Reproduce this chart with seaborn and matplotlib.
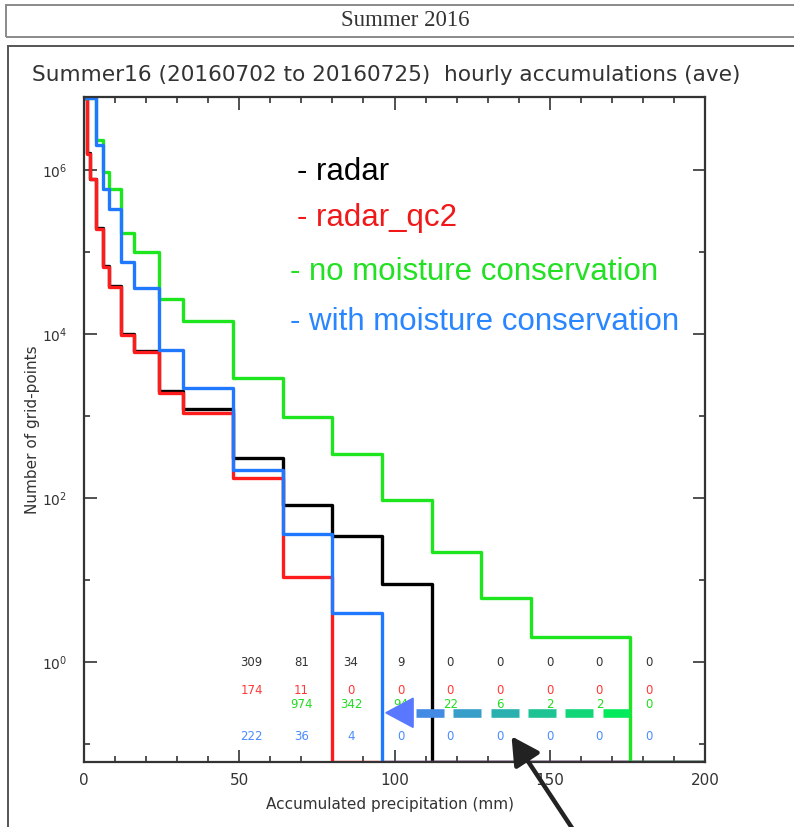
import numpy as np
import pandas as pd
import matplotlib
matplotlib.use("Agg")
import matplotlib.pyplot as plt
import matplotlib.transforms as mtransforms
from matplotlib.ticker import FixedLocator, MultipleLocator, NullFormatter, LogFormatterMathtext
from matplotlib.patches import Rectangle, Polygon, FancyArrowPatch, ArrowStyle
from matplotlib.collections import LineCollection
import seaborn as sns

# ---------------- data ----------------
bin_edges = [0, 1, 2, 4, 6, 8, 12, 16, 24, 32, 48, 64, 80, 96, 112, 128, 144, 160, 176, 192, 208]
series_names = ["radar", "radar_qc2", "no moisture conservation", "with moisture conservation"]
radar = [7.6e6, 1.6e6, 7.9e5, 1.95e5, 6.7e4, 3.9e4, 9.9e3, 6.2e3, 2.0e3, 1.2e3,
         309, 81, 34, 9, 0, 0, 0, 0, 0, 0]
radar_qc2 = [7.6e6, 1.58e6, 7.8e5, 1.92e5, 6.6e4, 3.8e4, 9.7e3, 6.1e3, 1.9e3, 1.08e3,
             174, 11, 0, 0, 0, 0, 0, 0, 0, 0]
no_moist = [7.6e6, 7.6e6, 7.5e6, 2.3e6, 9.5e5, 5.9e5, 1.7e5, 9.9e4, 2.7e4, 1.45e4,
            2.9e3, 974, 342, 94, 22, 6, 2, 2, 0, 0]
with_moist = [7.6e6, 7.6e6, 7.5e6, 2.0e6, 5.9e5, 3.4e5, 7.6e4, 3.6e4, 6.4e3, 2.2e3,
              222, 36, 4, 0, 0, 0, 0, 0, 0, 0]
all_series = [radar, radar_qc2, no_moist, with_moist]

# which bins get printed counts (first bin index, last bin index) per series
count_ranges = [(10, 18), (10, 18), (11, 18), (10, 18)]

x_ticks = [0, 50, 100, 150, 200]
y_major = [1e0, 1e2, 1e4, 1e6]
y_minor = [1e-1, 1e1, 1e3, 1e5]

line_colors = ["#000000", "#ff1c1c", "#1ee61e", "#1f78ff"]
text_colors = ["#000000", "#f01818", "#22e022", "#2a86ff"]
count_colors = ["#333333", "#ff3838", "#22dd22", "#4a8cff"]

title_text = "Summer16 (20160702 to 20160725)  hourly accumulations (ave)"
header_text = "Summer 2016"

# ---------------- figure ----------------
sns.set_style("ticks")
plt.rcParams["font.family"] = ["DejaVu Sans"]

W, H = 794, 827
fig = plt.figure(figsize=(W / 100, H / 100), dpi=100)
fig.patch.set_facecolor("white")


def fx(px):
    return px / W


def fy(py):
    return 1 - py / H


ax = fig.add_axes([fx(84), fy(762), fx(705) - fx(84), fy(97) - fy(762)])
ax.set_facecolor("white")

y_lo, y_hi = 0.06, 7.8e6

rows = []
for name, vals in zip(series_names, all_series):
    vv = list(vals) + [vals[-1]]
    for e, c in zip(bin_edges, vv):
        rows.append({"series": name, "edge": e, "count": max(c, y_lo)})
df = pd.DataFrame(rows)

sns.lineplot(data=df, x="edge", y="count", hue="series", hue_order=series_names,
             palette=line_colors, drawstyle="steps-post", estimator=None, sort=False,
             linewidth=2.4, legend=False, ax=ax)

ax.set_yscale("log")
ax.set_xlim(0, 200)
ax.set_ylim(y_lo, y_hi)

ax.set_xticks(x_ticks)
ax.set_xticklabels([str(t) for t in x_ticks])
ax.xaxis.set_minor_locator(MultipleLocator(10))
ax.yaxis.set_major_locator(FixedLocator(y_major))
ax.yaxis.set_minor_locator(FixedLocator(y_minor))
ax.yaxis.set_major_formatter(LogFormatterMathtext())
ax.yaxis.set_minor_formatter(NullFormatter())

ax.tick_params(which="both", direction="in", top=True, right=True, color="#333333",
               labelcolor="#333333", width=1.2)
ax.tick_params(which="major", length=9)
ax.tick_params(which="minor", length=4)
ax.tick_params(axis="x", which="major", labelsize=11, pad=8)
ax.tick_params(axis="y", which="major", labelsize=10, pad=12)
for sp in ax.spines.values():
    sp.set_color("#333333")
    sp.set_linewidth(1.6)

ax.set_xlabel("Accumulated precipitation (mm)", fontsize=11, color="#333333")
ax.set_ylabel("Number of grid-points", fontsize=11, color="#333333")
ax.xaxis.set_label_coords(0.493, -0.052)
ax.yaxis.set_label_coords(-0.071, 0.50)

# legend-like coloured labels
leg_pos = [(0.343, 0.887), (0.343, 0.818), (0.332, 0.737), (0.332, 0.662)]
for name, col, (lx, ly) in zip(series_names, text_colors, leg_pos):
    ax.text(lx, ly, "- " + name, transform=ax.transAxes, fontsize=22.5, color=col,
            family=["Liberation Sans", "DejaVu Sans"], va="center", ha="left")

# printed counts per bin
row_y = [0.150, 0.108, 0.087, 0.038]
trans = mtransforms.blended_transform_factory(ax.transData, ax.transAxes)
for vals, (i0, i1), col, ry in zip(all_series, count_ranges, count_colors, row_y):
    for i in range(i0, i1 + 1):
        xc = bin_edges[i] + 6
        ax.text(xc, ry, f"{int(vals[i])}", transform=trans, fontsize=8.5, color=col,
                ha="center", va="center")

# gradient dashed arrow (green -> blue) pointing left
arrow_start, arrow_tip, dash_len, gap = 176.0, 100.0, 9.0, 3.0
ay = 0.074
segs, cols = [], []
c_right = np.array([0.0, 0.94, 0.32])
c_left = np.array([0.31, 0.47, 1.0])
x = arrow_start
while x - dash_len > arrow_tip + 5:
    segs.append([(x, ay), (x - dash_len, ay)])
    f = (arrow_start - (x - dash_len / 2)) / (arrow_start - arrow_tip)
    cols.append(tuple(c_right + (c_left - c_right) * f))
    x -= dash_len + gap
lc = LineCollection(segs, colors=cols, linewidths=6.2, transform=trans, zorder=6)
ax.add_collection(lc)
head = Polygon([(arrow_tip - 2.8, ay), (arrow_tip + 6, ay + 0.022), (arrow_tip + 6, ay - 0.022)],
               closed=True, transform=trans, color="#5a78ff", zorder=7)
ax.add_patch(head)

# black pointer arrow
blk = FancyArrowPatch((fx(576), fy(834)), (fx(510), fy(734)), transform=fig.transFigure,
                      arrowstyle=ArrowStyle("-|>", head_length=0.7, head_width=0.38),
                      mutation_scale=24, lw=3.2, color="#222222", zorder=10)
fig.add_artist(blk)

# title and header boxes
fig.text(fx(386), fy(75), title_text, fontsize=15.6, color="#333333", ha="center", va="center")
fig.add_artist(Rectangle((fx(6), fy(37)), fx(800) - fx(6), fy(5) - fy(37),
                         transform=fig.transFigure, fill=False, ec="#8a8a8a", lw=1.4))
fig.add_artist(Rectangle((fx(8), fy(840)), fx(800) - fx(8), fy(46) - fy(840),
                         transform=fig.transFigure, fill=False, ec="#555555", lw=1.4))
fig.text(fx(405), fy(21), header_text, fontsize=16.5, color="#333333", ha="center", va="center",
         family=["Liberation Serif", "DejaVu Serif"])

fig.savefig("out.png", dpi=100)
